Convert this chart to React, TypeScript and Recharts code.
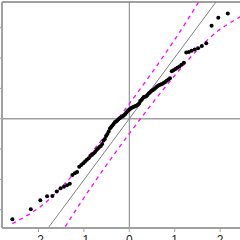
import React from 'react';
import { ComposedChart, XAxis, YAxis, Scatter, Line, ReferenceLine } from 'recharts';

// theoretical normal quantiles (x) for the 100 ordered observations
const quantiles = [
  -2.576, -2.170, -1.960, -1.812, -1.695, -1.598, -1.514, -1.440, -1.372, -1.311,
  -1.254, -1.200, -1.150, -1.103, -1.058, -1.015, -0.974, -0.935, -0.896, -0.860,
  -0.824, -0.789, -0.755, -0.722, -0.690, -0.659, -0.628, -0.598, -0.568, -0.539,
  -0.510, -0.482, -0.454, -0.426, -0.399, -0.372, -0.345, -0.319, -0.292, -0.266,
  -0.240, -0.215, -0.189, -0.164, -0.138, -0.113, -0.088, -0.063, -0.038, -0.013,
  0.013, 0.038, 0.063, 0.088, 0.113, 0.138, 0.164, 0.189, 0.215, 0.240,
  0.266, 0.292, 0.319, 0.345, 0.372, 0.399, 0.426, 0.454, 0.482, 0.510,
  0.539, 0.568, 0.598, 0.628, 0.659, 0.690, 0.722, 0.755, 0.789, 0.824,
  0.860, 0.896, 0.935, 0.974, 1.015, 1.058, 1.103, 1.150, 1.200, 1.254,
  1.311, 1.372, 1.440, 1.514, 1.598, 1.695, 1.812, 1.960, 2.170, 2.576,
];

// ordered sample values (y)
const sample = [
  -1.658, -1.493, -1.345, -1.279, -1.274, -1.200, -1.147, -1.121, -1.098, -1.071,
  -0.928, -0.900, -0.879, -0.791, -0.763, -0.735, -0.705, -0.677, -0.653, -0.615,
  -0.598, -0.574, -0.549, -0.516, -0.491, -0.466, -0.450, -0.417, -0.359, -0.335,
  -0.285, -0.252, -0.211, -0.162, -0.137, -0.112, -0.087, -0.059, -0.046, -0.030,
  -0.010, 0.007, 0.020, 0.031, 0.045, 0.061, 0.077, 0.102, 0.127, 0.143,
  0.160, 0.171, 0.185, 0.193, 0.201, 0.209, 0.218, 0.229, 0.251, 0.292,
  0.308, 0.333, 0.358, 0.363, 0.369, 0.391, 0.415, 0.432, 0.457, 0.468,
  0.481, 0.501, 0.522, 0.539, 0.555, 0.564, 0.572, 0.588, 0.605, 0.626,
  0.646, 0.666, 0.783, 0.799, 0.819, 0.839, 0.860, 0.888, 0.921, 1.091,
  1.099, 1.119, 1.141, 1.160, 1.198, 1.243, 1.533, 1.665, 1.734, 1.950,
];

// confidence envelope
const bandX = [-2.576, -2.17, -1.96, -1.75, -1.5, -1.25, -1.0, -0.75, -0.5, -0.25, 0, 0.25, 0.5, 0.75, 1.0, 1.25, 1.5, 1.75, 1.96, 2.17, 2.576];
const bandUpper = [-1.73, -1.558, -1.452, -1.318, -1.134, -0.93, -0.712, -0.483, -0.247, -0.003, 0.246, 0.501, 0.761, 1.029, 1.304, 1.59, 1.89, 2.21, 2.5, 2.816, 3.553];
const bandLower = [-3.553, -2.816, -2.5, -2.21, -1.89, -1.59, -1.304, -1.029, -0.761, -0.501, -0.246, 0.003, 0.247, 0.483, 0.712, 0.93, 1.134, 1.318, 1.452, 1.558, 1.73];

// reference line
const refX = [-3, 3];
const refY = [-3.024, 3.024];

const xTicks = [-2, -1, 0, 1, 2];
const yTicks = [-1.5, -1, -0.5, 0, 0.5, 1, 1.5];

const points = quantiles.map((x, i) => ({ x, y: sample[i] }));
const upperData = bandX.map((x, i) => ({ x, y: bandUpper[i] }));
const lowerData = bandX.map((x, i) => ({ x, y: bandLower[i] }));
const refData = refX.map((x, i) => ({ x, y: refY[i] }));

const X_DOMAIN: [number, number] = [-2.804, 2.504];
const Y_DOMAIN: [number, number] = [-1.8016, 1.9235];

const frame = '#a0a0a0';
const font = { fontSize: 12, fill: '#222', fontFamily: '"Liberation Sans", Arial, sans-serif' };

const Dot = (props: any) => <circle cx={props.cx} cy={props.cy} r={2} fill="#000" />;

export default function App() {
  return (
    <div style={{ position: 'fixed', left: 0, top: 0, width: 240, height: 240, overflow: 'hidden', background: '#fff' }}>
      <div style={{ position: 'absolute', left: -50, top: 0 }}>
        <ComposedChart width={298} height={256} margin={{ top: 2, right: 5, bottom: 0, left: 0 }}>
          <XAxis
            type="number"
            dataKey="x"
            domain={X_DOMAIN}
            allowDataOverflow
            ticks={xTicks}
            tickSize={4}
            tickMargin={3}
            height={28}
            axisLine={{ stroke: frame, strokeWidth: 2 }}
            tickLine={{ stroke: frame }}
            tick={font}
          />
          <YAxis
            type="number"
            dataKey="y"
            domain={Y_DOMAIN}
            allowDataOverflow
            ticks={yTicks}
            tickSize={5}
            width={52}
            axisLine={{ stroke: frame, strokeWidth: 2 }}
            tickLine={{ stroke: frame }}
            tick={font}
          />
          <ReferenceLine y={Y_DOMAIN[1]} stroke={frame} strokeWidth={2} />
          <ReferenceLine y={0} stroke={frame} strokeWidth={1.5} />
          <ReferenceLine x={0} stroke="#808080" strokeWidth={1} />
          <Line data={refData} dataKey="y" type="linear" stroke="#808080" strokeWidth={1} dot={false} isAnimationActive={false} />
          <Line data={upperData} dataKey="y" type="monotone" stroke="#ff00ff" strokeWidth={1.3} strokeDasharray="4 4" dot={false} isAnimationActive={false} />
          <Line data={lowerData} dataKey="y" type="monotone" stroke="#ff00ff" strokeWidth={1.3} strokeDasharray="4 4" dot={false} isAnimationActive={false} />
          <Scatter data={points} dataKey="y" shape={<Dot />} isAnimationActive={false} />
        </ComposedChart>
      </div>
    </div>
  );
}
